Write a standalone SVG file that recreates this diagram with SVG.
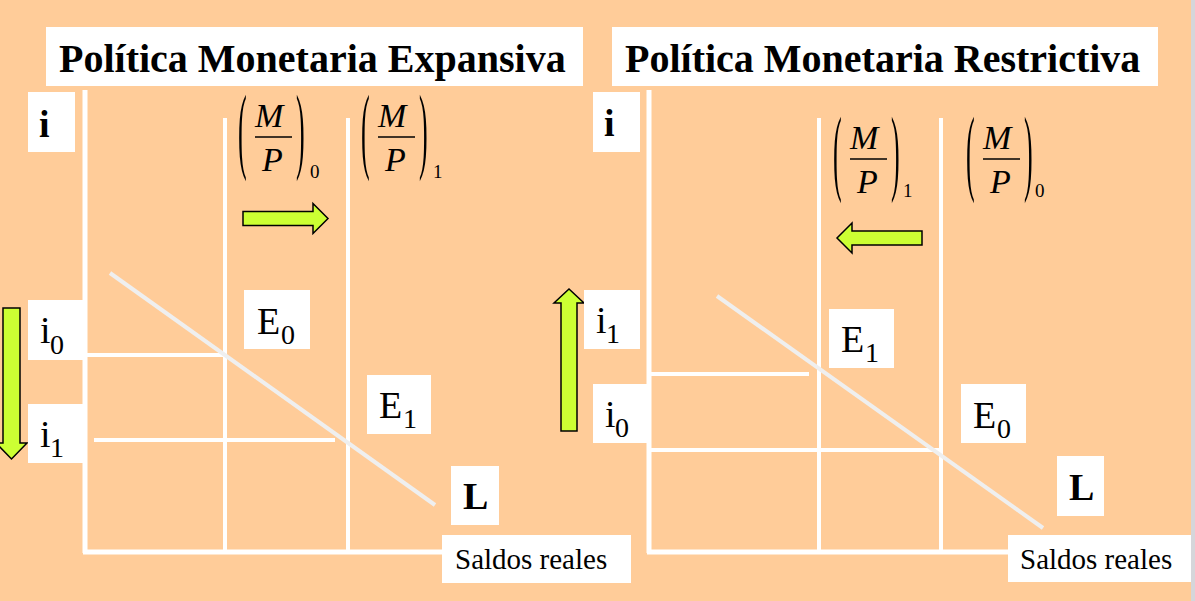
<svg xmlns="http://www.w3.org/2000/svg" width="1195" height="601" viewBox="0 0 1195 601">
<style>
.box{fill:#FFFFFF}
.ax{stroke:#FFFFFF;stroke-width:5;fill:none}
.ln{stroke:#FFFFFF;stroke-width:4;fill:none}
.curve{stroke:#EFEFEF;stroke-width:4;fill:none}
.title{font-family:"Liberation Serif","Times New Roman",serif;font-weight:bold;font-size:40px;fill:#000}
.lab{font-family:"Liberation Serif","Times New Roman",serif;font-size:38px;fill:#000}
.sub{font-family:"Liberation Serif","Times New Roman",serif;font-size:28px;fill:#000}
.bold{font-family:"Liberation Serif","Times New Roman",serif;font-weight:bold;font-size:38px;fill:#000}
.axis-t{font-family:"Liberation Serif","Times New Roman",serif;font-size:29px;fill:#000}
.mp{font-family:"Liberation Serif","Times New Roman",serif;font-style:italic;font-size:34px;fill:#000}
.par{font-family:"Liberation Serif","Times New Roman",serif;font-size:26px;fill:#000}
.msub{font-family:"Liberation Serif","Times New Roman",serif;font-size:19px;fill:#000}
.arrow{fill:#CCFF33;stroke:#000;stroke-width:1.5;stroke-linejoin:miter}
</style>
<defs>
<g id="mpfrac">
<text class="par" transform="translate(0,66) scale(1,3.7)">(</text>
<text class="par" transform="translate(58,66) scale(1,3.7)">)</text>
<text class="mp" x="17" y="32">M</text>
<line x1="17" y1="42" x2="54" y2="42" stroke="#000" stroke-width="1.5"/>
<text class="mp" x="24" y="76">P</text>
</g>
</defs>
<rect x="0" y="0" width="1195" height="601" fill="#D6D6DA"/>
<rect x="0" y="0" width="1191" height="601" fill="#FFCC99"/>

<g id="title-left"><rect class="box" x="46" y="27" width="537" height="59"/><text class="title" x="59" y="72">Política Monetaria Expansiva</text></g>
<g id="title-right"><rect class="box" x="612" y="27" width="546" height="59"/><text class="title" x="625" y="72">Política Monetaria Restrictiva</text></g>

<g id="connectors">
<line class="ax" x1="85" y1="90" x2="85" y2="553"/>
<line class="ax" x1="83" y1="552" x2="443" y2="552"/>
<line class="ln" x1="225" y1="118" x2="225" y2="552"/>
<line class="ln" x1="348" y1="118" x2="348" y2="552"/>
<line class="ln" x1="85" y1="355" x2="225" y2="355"/>
<line class="ln" x1="94" y1="440" x2="335" y2="440"/>
<line class="curve" x1="110" y1="273" x2="435" y2="505"/>
<line class="ax" x1="649" y1="90" x2="649" y2="553"/>
<line class="ax" x1="647" y1="552" x2="1008" y2="552"/>
<line class="ln" x1="819" y1="118" x2="819" y2="552"/>
<line class="ln" x1="941" y1="118" x2="941" y2="552"/>
<line class="ln" x1="649" y1="374" x2="809" y2="374"/>
<line class="ln" x1="649" y1="450" x2="941" y2="450"/>
<line class="curve" x1="717" y1="296" x2="1043" y2="528"/>
</g>

<g id="arrows">
<polygon class="arrow" points="243,211.5 313,211.5 313,203.5 328,218.5 313,233.5 313,225.5 243,225.5"/>
<polygon class="arrow" points="922,231 852,231 852,223 837,238 852,253 852,245 922,245"/>
<polygon class="arrow" points="3,308 20,308 20,443 27,443 11.5,459 -4,443 3,443"/>
<polygon class="arrow" points="561,431 577,431 577,303 584,303 569,289 554,303 561,303"/>
</g>

<g id="label-i-left"><rect class="box" x="28" y="92" width="47" height="60"/><text class="bold" x="39" y="137">i</text></g>
<g id="label-i0-left"><rect class="box" x="28" y="300" width="55" height="60"/><text class="lab" x="40" y="343">i</text><text class="sub" x="50" y="354">0</text></g>
<g id="label-i1-left"><rect class="box" x="28" y="404" width="55" height="59"/><text class="lab" x="40" y="447">i</text><text class="sub" x="50" y="457">1</text></g>
<g id="label-E0-left"><rect class="box" x="244" y="290" width="66" height="59"/><text class="lab" x="257" y="334">E</text><text class="sub" x="281" y="344">0</text></g>
<g id="label-E1-left"><rect class="box" x="367" y="375" width="64" height="59"/><text class="lab" x="379" y="418">E</text><text class="sub" x="403" y="428">1</text></g>
<g id="label-L-left"><rect class="box" x="451" y="466" width="48" height="59"/><text class="bold" x="463" y="509">L</text></g>
<g id="label-saldos-left"><rect class="box" x="442" y="535" width="189" height="48"/><text class="axis-t" x="455" y="569">Saldos reales</text></g>
<g id="label-mp0-left"><use href="#mpfrac" transform="translate(238,95)"/><text class="msub" x="310" y="178">0</text></g>
<g id="label-mp1-left"><use href="#mpfrac" transform="translate(361,95)"/><text class="msub" x="433" y="178">1</text></g>

<g id="label-i-right"><rect class="box" x="593" y="92" width="47" height="60"/><text class="bold" x="604" y="136">i</text></g>
<g id="label-i1-right"><rect class="box" x="584" y="290" width="56" height="59"/><text class="lab" x="596" y="333">i</text><text class="sub" x="606" y="343">1</text></g>
<g id="label-i0-right"><rect class="box" x="593" y="384" width="54" height="59"/><text class="lab" x="605" y="427">i</text><text class="sub" x="615" y="437">0</text></g>
<g id="label-E1-right"><rect class="box" x="829" y="309" width="65" height="59"/><text class="lab" x="841" y="352">E</text><text class="sub" x="865" y="362">1</text></g>
<g id="label-E0-right"><rect class="box" x="961" y="384" width="65" height="59"/><text class="lab" x="973" y="428">E</text><text class="sub" x="997" y="438">0</text></g>
<g id="label-L-right"><rect class="box" x="1057" y="456" width="47" height="60"/><text class="bold" x="1069" y="500">L</text></g>
<g id="label-saldos-right"><rect class="box" x="1008" y="535" width="183" height="47"/><text class="axis-t" x="1020" y="569">Saldos reales</text></g>
<g id="label-mp1-right"><use href="#mpfrac" transform="translate(833,117)"/><text class="msub" x="903" y="197">1</text></g>
<g id="label-mp0-right"><use href="#mpfrac" transform="translate(966,117)"/><text class="msub" x="1035" y="197">0</text></g>
</svg>
